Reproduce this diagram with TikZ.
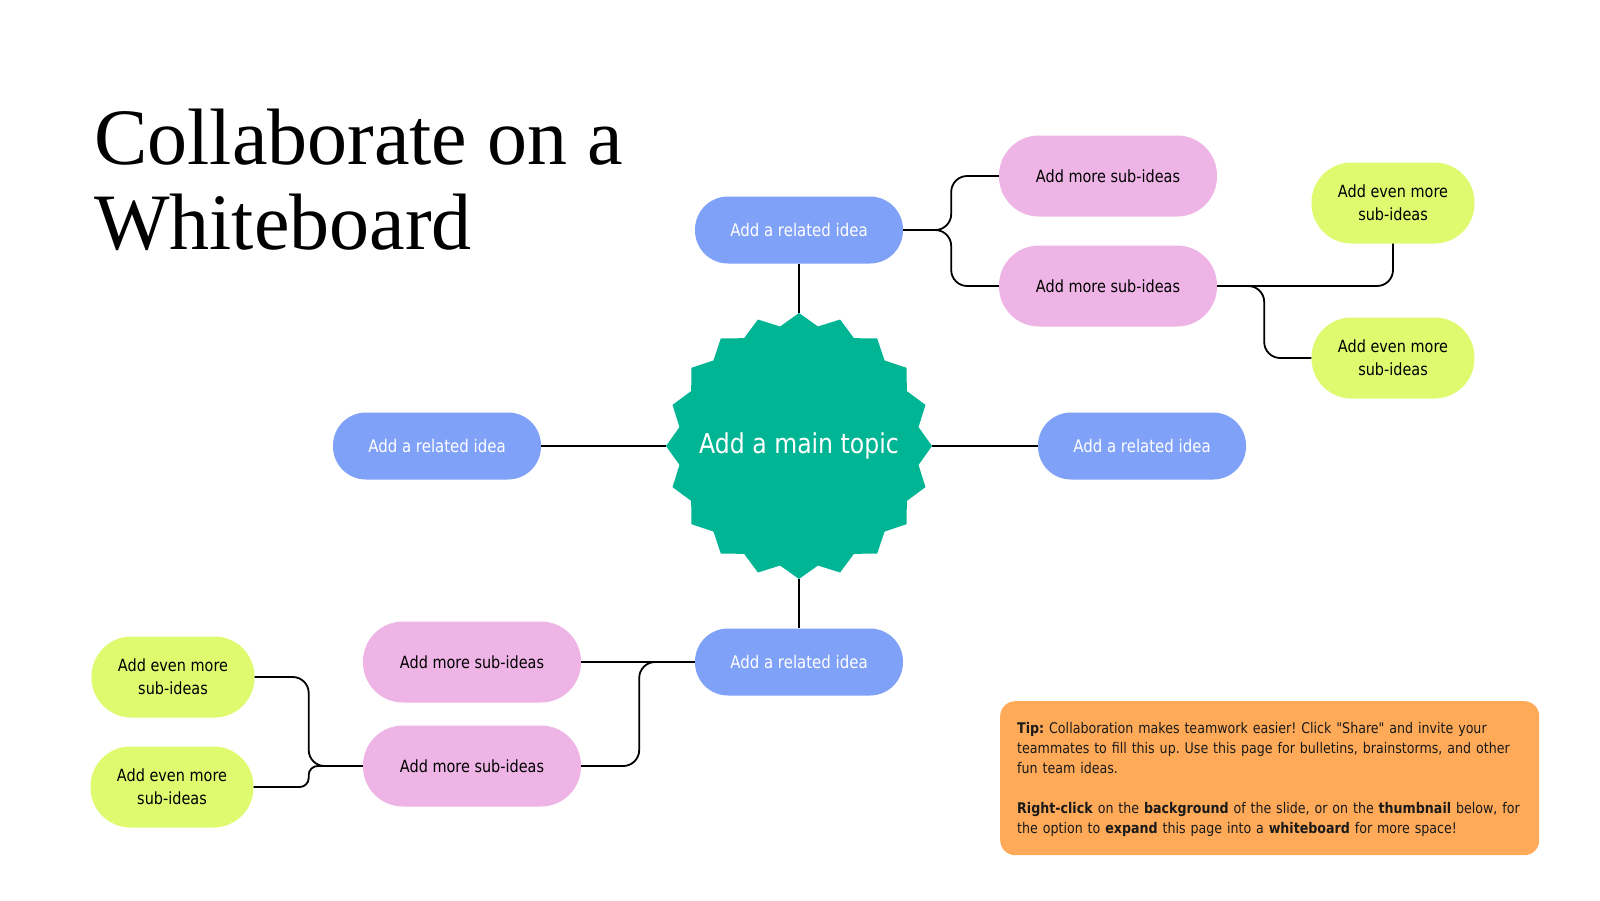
\documentclass[tikz,border=0pt]{standalone}
\usepackage{fontspec}
\setmainfont{Liberation Serif}
\newfontfamily\uifont[FakeStretch=0.86]{DejaVu Sans}
\definecolor{relblue}{RGB}{128,161,248}
\definecolor{subpink}{RGB}{238,180,230}
\definecolor{evengreen}{RGB}{224,250,112}
\definecolor{startop}{RGB}{0,181,148}
\definecolor{tiporange}{RGB}{255,170,88}
\definecolor{tiptext}{RGB}{26,26,26}
\frenchspacing
\begin{document}
\begin{tikzpicture}[x=1pt,y=-1pt,
  conn/.style={draw=black, line width=1.8pt, rounded corners=16pt},
  relnode/.style={fill=relblue, rounded corners=33pt, minimum width=208pt, minimum height=67pt, inner sep=0pt, text=white, font=\uifont\fontsize{17.4}{21}\selectfont},
  subnode/.style={fill=subpink, rounded corners=40pt, minimum width=218pt, minimum height=81pt, inner sep=0pt, text=black, font=\uifont\fontsize{16.8}{21}\selectfont},
  evennode/.style={fill=evengreen, rounded corners=40pt, minimum width=163pt, minimum height=81pt, inner sep=0pt, text=black, align=center, font=\uifont\fontsize{16.8}{23}\selectfont},
  titlefont/.style={anchor=base west, inner sep=0pt, font=\fontsize{80}{89}\selectfont}
]
\useasboundingbox (0,0) rectangle (1600,900);
\fill[white] (0,0) rectangle (1600,900);

% title
\node[titlefont] (title1) at (94,164) {Collaborate on a};
\node[titlefont] (title2) at (94,249) {Whiteboard};

% main topic: 20-point star
\fill[startop, shift={(799,446)}] plot[samples=41, domain=0:40, variable=\k] ({90+9*\k}:{ifthenelse(mod(\k,2)==0,133,121)}) -- cycle;
\node[circle, minimum size=266pt, inner sep=0pt, text=white, font=\uifont\fontsize{27.4}{32}\selectfont] (main) at (799,446) {Add a main topic};

% related ideas
\node[relnode] (rt) at (799,230) {Add a related idea};
\node[relnode] (rb) at (799,662) {Add a related idea};
\node[relnode] (rl) at (437,446) {Add a related idea};
\node[relnode] (rr) at (1142,446) {Add a related idea};

% sub ideas
\node[subnode] (pt1) at (1108,176) {Add more sub-ideas};
\node[subnode] (pt2) at (1108,286) {Add more sub-ideas};
\node[subnode] (pb1) at (472,662) {Add more sub-ideas};
\node[subnode] (pb2) at (472,766) {Add more sub-ideas};

% even more
\node[evennode] (gt1) at (1393,203) {Add even more\\sub-ideas};
\node[evennode] (gt2) at (1393,358) {Add even more\\sub-ideas};
\node[evennode] (gb1) at (173,677) {Add even more\\sub-ideas};
\node[evennode] (gb2) at (172,787) {Add even more\\sub-ideas};

% connectors
\draw[conn] (main.north) -- (rt.south);
\draw[conn] (main.south) -- (rb.north);
\draw[conn] (main.west) -- (rl.east);
\draw[conn] (main.east) -- (rr.west);
\draw[conn] (rt.east) -- ++(48,0) |- (pt1.west);
\draw[conn] (rt.east) -- ++(48,0) |- (pt2.west);
\draw[conn] (pt2.east) -| (gt1.south);
\draw[conn] (pt2.east) -- ++(47,0) |- (gt2.west);
\draw[conn] (pb1.east) -- (rb.west);
\draw[conn] (pb2.east) -- ++(58,0) |- (rb.west);
\draw[conn] (gb1.east) -- ++(54,0) |- (pb2.west);
\draw[conn, rounded corners=9pt] (gb2.east) -- ++(55,0) |- (pb2.west);

% tip box
\node[fill=tiporange, rounded corners=15pt, minimum width=539pt, minimum height=154pt, inner sep=0pt, anchor=north west] (tip) at (1000,701) {};
\node[anchor=north west, inner sep=0pt, text width=525pt, align=left, text=tiptext, font=\uifont\fontsize{14.7}{20}\selectfont] (tiptxt) at (1017,722) {\textbf{Tip:} Collaboration makes teamwork easier! Click "Share" and invite your\\teammates to fill this up. Use this page for bulletins, brainstorms, and other\\fun team ideas.\\[20pt]\textbf{Right-click} on the \textbf{background} of the slide, or on the \textbf{thumbnail} below, for\\the option to \textbf{expand} this page into a \textbf{whiteboard} for more space!};
\end{tikzpicture}
\end{document}
